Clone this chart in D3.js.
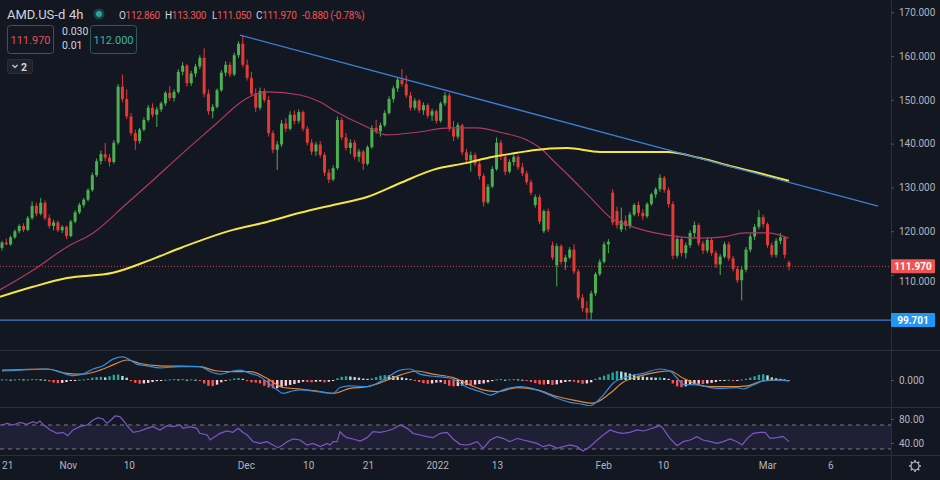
<!DOCTYPE html>
<html>
<head>
<meta charset="utf-8">
<script src="https://cdn.jsdelivr.net/npm/d3@7"></script>
<style>
  body { margin: 0; background: #131722; }
  text { font-family: Roboto, "Noto Sans", sans-serif; }
</style>
</head>
<body>
<div id="chart"></div>
<script>
// 4h candles, [open, high, low, close]
var candles = [
  [116.2,117.8,115.6,117.4],[117.4,118.3,116.8,117.0],[117.0,119.0,116.7,118.6],[118.6,120.4,118.2,120.0],[120.0,121.6,119.5,121.2],
  [121.2,121.8,119.8,120.3],[120.3,123.5,120.0,123.0],[123.0,126.8,122.6,125.8],[125.8,126.5,123.4,124.0],[124.0,127.6,123.6,126.5],
  [126.5,127.0,122.5,123.0],[123.0,123.8,120.6,121.2],[121.2,122.6,120.2,122.0],[122.0,122.4,119.8,120.2],[120.2,121.4,119.6,121.0],
  [121.0,121.3,118.2,118.9],[118.9,122.6,118.6,122.2],[122.2,124.8,121.8,124.3],[124.3,126.5,123.9,126.0],[126.0,127.6,125.4,127.2],
  [127.2,129.8,126.8,129.4],[129.4,133.4,129.0,132.8],[132.8,136.6,132.4,136.0],[136.0,138.4,135.2,137.6],[137.6,140.2,136.0,136.8],
  [136.8,137.6,134.8,135.8],[135.8,140.8,135.4,140.2],[140.2,153.6,139.8,153.0],[153.0,155.8,149.4,150.2],[150.2,152.4,145.6,146.2],
  [146.2,147.0,141.8,142.4],[142.4,143.2,138.6,140.6],[140.6,143.6,140.0,143.2],[143.2,146.0,142.8,145.4],[145.4,148.8,145.0,148.2],
  [148.2,149.2,146.0,146.6],[146.6,148.4,143.8,147.8],[147.8,149.6,147.2,149.2],[149.2,152.0,148.6,151.6],[151.6,153.2,149.8,150.4],
  [150.4,152.4,149.6,151.8],[151.8,157.0,151.4,156.4],[156.4,158.6,155.6,157.8],[157.8,158.2,153.0,153.8],[153.8,156.6,153.2,156.0],
  [156.0,158.2,155.2,157.6],[157.6,160.2,157.0,159.6],[159.6,161.8,150.6,151.4],[151.4,152.4,146.6,147.4],[147.4,149.0,145.8,148.4],
  [148.4,152.6,148.0,152.2],[152.2,156.8,151.8,156.2],[156.2,158.8,155.4,158.0],[158.0,158.6,155.2,155.8],[155.8,160.8,155.4,160.2],
  [160.2,163.4,159.6,162.8],[162.8,164.8,157.4,158.0],[158.0,159.2,154.4,155.0],[155.0,156.4,150.8,151.4],[151.4,152.6,147.2,148.2],
  [148.2,152.8,147.6,152.0],[152.0,152.6,149.4,150.0],[150.0,150.8,141.6,142.4],[142.4,143.0,137.8,138.6],[138.6,140.6,134.0,139.8],
  [139.8,145.4,139.2,144.6],[144.6,145.8,142.6,143.4],[143.4,147.4,143.0,146.6],[146.6,147.6,144.4,145.2],[145.2,147.8,144.6,147.2],
  [147.2,147.6,142.8,143.4],[143.4,144.0,139.6,140.2],[140.2,141.0,137.4,138.2],[138.2,140.4,137.2,139.8],[139.8,140.6,136.8,137.4],
  [137.4,138.0,132.6,133.4],[133.4,134.2,131.0,131.8],[131.8,135.0,131.4,134.4],[134.4,146.2,134.0,145.4],[145.4,146.0,140.8,141.4],
  [141.4,142.4,138.4,139.0],[139.0,141.0,137.6,140.2],[140.2,140.8,136.4,137.0],[137.0,138.8,135.8,138.2],[138.2,138.6,134.0,135.4],
  [135.4,139.6,135.0,139.2],[139.2,144.2,138.8,143.6],[143.6,145.4,142.2,142.8],[142.8,144.8,141.6,144.2],[144.2,147.6,143.8,147.0],
  [147.0,150.8,146.6,150.2],[150.2,153.2,149.4,152.6],[152.6,155.2,151.8,154.6],[154.6,157.0,153.0,153.6],[153.6,155.6,150.4,151.0],
  [151.0,151.8,147.6,148.2],[148.2,150.4,147.6,149.8],[149.8,150.2,147.0,147.6],[147.6,149.4,146.6,148.8],[148.8,149.2,145.8,146.4],
  [146.4,148.0,145.2,147.4],[147.4,147.8,144.6,145.2],[145.2,149.6,144.8,149.2],[149.2,151.8,148.6,151.0],[151.0,151.6,142.8,143.4],
  [143.4,145.2,140.6,141.6],[141.6,144.8,141.0,144.2],[144.2,144.6,137.4,138.0],[138.0,138.8,135.4,136.2],[136.2,138.2,133.6,137.4],
  [137.4,138.0,134.8,135.4],[135.4,136.0,131.8,132.6],[132.6,133.2,125.6,126.6],[126.6,130.8,126.2,130.2],[130.2,134.8,129.8,134.2],
  [134.2,141.4,133.8,140.2],[140.2,140.8,136.2,137.0],[137.0,137.6,132.8,133.6],[133.6,136.4,133.2,135.8],[135.8,137.6,135.0,137.0],
  [137.0,137.4,134.0,134.6],[134.6,135.6,132.6,133.2],[133.2,133.8,130.6,131.2],[131.2,131.8,128.2,128.8],[126.0,128.4,125.4,127.8],
  [127.8,128.4,121.6,122.2],[120.0,125.0,119.6,124.6],[124.6,125.2,119.8,120.4],[116.8,117.6,113.4,114.0],[112.2,117.2,107.4,116.6],
  [116.6,117.0,112.4,113.0],[113.0,114.6,111.2,114.0],[114.0,116.4,113.6,115.8],[115.8,117.0,110.2,110.8],[110.8,111.4,104.2,104.8],
  [104.8,105.6,101.6,102.4],[102.4,104.0,99.7,101.4],[101.4,106.4,99.8,105.8],[105.8,110.6,105.2,110.2],[110.2,113.6,109.8,113.0],
  [113.0,117.6,112.6,117.0],[117.0,118.2,115.0,117.6],[128.8,129.6,121.4,122.0],[124.6,125.6,120.6,121.4],[120.4,125.4,119.8,122.4],
  [122.4,123.6,120.2,121.2],[121.2,124.4,120.6,123.8],[123.8,126.4,123.4,126.0],[126.0,126.8,123.4,124.2],[124.2,125.0,122.6,123.4],
  [123.4,126.6,123.0,126.2],[126.2,128.8,125.8,128.4],[128.4,130.0,127.6,129.6],[129.6,133.0,129.0,132.2],[132.2,132.6,128.8,129.4],
  [129.4,130.0,125.4,126.2],[126.2,126.8,113.6,114.4],[114.4,119.0,113.8,118.2],[118.2,118.8,114.2,115.0],[115.0,117.4,113.8,116.8],
  [116.8,120.2,116.2,119.6],[119.6,122.2,118.6,121.4],[121.4,121.8,116.6,117.2],[117.2,117.8,114.8,115.6],[115.6,118.6,115.0,118.0],
  [118.0,118.6,114.4,115.0],[115.0,115.6,111.6,112.4],[112.4,114.8,110.0,114.2],[114.2,117.6,113.8,117.0],[117.0,117.6,113.2,113.8],
  [113.8,114.4,110.8,111.4],[111.4,112.0,108.2,108.8],[108.8,112.0,104.2,111.2],[111.2,116.4,110.6,115.8],[115.8,119.4,115.2,118.8],
  [118.8,121.6,118.0,121.0],[121.0,124.8,120.4,123.2],[123.2,123.8,120.8,121.6],[121.6,122.0,116.2,116.8],[116.8,117.4,114.0,114.6],
  [114.6,118.4,114.0,117.8],[117.8,119.6,117.0,118.6],[118.6,118.8,113.8,114.6],[112.86,113.3,111.05,111.97]
]

// moving averages, [bar index, value]
var maShort = [[-0.5,106.6],[7.2,111.1],[15.1,116.4],[21.2,119.6],[29.1,126.4],[34.4,131.0],[42.1,137.9],[50,144.7],
  [55.3,149.3],[58.4,151.1],[61.6,151.8],[69.3,151.1],[74,149.5],[77,147.7],[84.9,143.8],[89.5,142.0],[96.5,142.6],
  [104.2,143.6],[110.5,143.6],[115.8,142.6],[122.1,140.8],[125.8,138.5],[127.4,136.9],[132.8,131.7],[137.4,127.1],
  [141.4,123.2],[146.7,121.0],[154.7,119.1],[162.3,118.4],[167.7,118.7],[172.8,119.6],[177.9,119.6],[183,118.4]]
var maLong = [[-0.5,105.0],[7.2,107.3],[15.1,109.3],[25.8,110.5],[34.4,113.4],[42.1,116.4],[53.7,120.3],[61.6,122.1],
  [69.3,124.2],[77,126.0],[84.9,127.8],[92.6,131.0],[100.2,134.0],[108.1,135.6],[114.2,137.0],[119.8,137.9],
  [123.5,138.5],[131.4,139.0],[139.1,138.1],[154.7,138.1],[162.3,136.7],[170,134.7],[177.9,132.8],[183,131.5]]

// drawn lines: falling trend line and support level
var trendLine = [[55.3,164.8],[203.7,125.7]]
var supportLevel = 99.701
var lastClose = 111.97

// MACD pane
var macdLine = [[0,3.1],[4.2,3.4],[10.5,3.8],[13.5,2.7],[16.5,1.5],[18.8,2.0],[21.2,3.8],[23.5,4.9],[25.8,7.2],[28.1,8.0],
  [29.8,6.9],[31.4,5.4],[33.7,4.9],[36.7,4.2],[41.4,4.6],[46,4.6],[48.4,2.9],[50.7,2.0],[53.7,3.1],[55.3,3.4],[57.7,2.3],
  [60,1.1],[61.6,-0.6],[64,-3.4],[65.3,-4.6],[67,-4.0],[69.3,-3.4],[73.3,-4.0],[77,-4.6],[78.6,-2.6],[80.9,-2.0],[84.9,-2.3],
  [88.6,0],[92.6,3.4],[94.9,3.8],[97.2,2.0],[100.2,1.3],[104.2,0.6],[108.8,-2.9],[111.2,-4.0],[113.5,-5.2],[116.5,-3.4],
  [120.5,-2.3],[124.4,-3.4],[129.1,-6.3],[132.1,-7.7],[135.1,-8.4],[136.7,-8.9],[139.8,-5.2],[142.1,-1.1],[145.3,1.1],
  [149.1,2.3],[153,3.8],[155.3,3.1],[157,0.6],[158.4,-1.5],[161.6,-1.7],[164.7,-2.6],[167.7,-2.9],[170.9,-2.6],
  [172.3,-3.1],[174.7,-1.7],[177,-0.3],[179.3,0],[183,-0.3]]
var signalLine = [[0,3.4],[10.5,3.8],[15.1,2.3],[18.8,2.0],[22.8,3.4],[25.8,5.2],[29.1,6.9],[32.1,5.7],[36.7,4.9],[46,4.6],
  [50,3.1],[53.7,2.9],[57.7,2.9],[61.6,0.6],[65.3,-2.6],[69.3,-3.1],[73.3,-3.8],[77,-4.6],[80.9,-2.9],[84.9,-2.3],[88.6,-0.6],
  [92.6,1.7],[96.5,3.1],[100.2,2.0],[104.9,0.8],[108.8,-1.7],[111.9,-3.4],[115.1,-4.0],[119.8,-2.6],[124.4,-3.4],
  [129.1,-5.7],[133.7,-7.2],[137.4,-8.0],[141.4,-4.6],[144.4,-0.8],[147.7,1.1],[152.3,2.7],[155.3,3.1],[158.4,0.6],
  [161.6,-1.5],[164.7,-2.3],[169.3,-2.3],[173.3,-2.0],[177,-0.3],[181,0],[183,-0.3]]
var histogram = [0.2,0.2,0.1,0.2,0.3,0.2,0.2,0.3,0.3,0.2,0.1,
  -0.5,-0.9,-1.1,-1.0,-0.7, -0.3,-0.1,0.1,0.2,0.4, 0.8,1.0,1.1,0.9, 1.3,1.8,1.9,1.4,0.8,
  -0.4,-1.0,-1.3,-1.2,-1.0,-0.7,-0.4, -0.2,0.1,0.2,0.3,0.2,0.3,0.1,0.2,0.1,-0.2,
  -1.2,-2.0,-2.1,-1.6, -0.8,-0.3,0.2, 0.5,0.7,0.4, -0.4,-0.8,-0.9,-1.2,
  -2.0,-2.6,-2.9,-2.8,-2.4,-2.0, -1.7,-1.4,-1.0, -0.6,-0.7,-0.8,-0.6,-0.5,-0.8,-0.6,-0.3,
  0.6,1.1,1.3,1.2,1.0,0.8,0.5, 0.4,0.6, 1.0,1.5,1.7,1.6,1.4, 1.1,0.9,0.6,0.3,-0.1,
  -0.7,-1.1,-1.3,-1.2,-0.9,-0.8, -1.4,-2.0,-2.2,-2.1,-1.9,-1.7, -1.8,-1.6,-1.4,-1.2,-0.8,-0.4,
  0.2,0.3,0.1,0.2,0.3,0.2,0.1,-0.2, -0.7,-1.1,-1.5,-1.6,-1.4,-1.7,-1.5, -1.0,-0.7,-0.5,-0.6,
  -1.0,-1.3,-1.2,-0.8, 0.4,1.0,1.5,2.0,2.6,3.1,2.9, 2.6,2.2,1.9,1.5,1.2, 1.0,0.9,0.8,0.9,0.7,0.4,
  -1.2,-2.2,-2.5,-2.2, -1.7,-1.4,-1.3,-1.4,-1.2,-1.0,-0.7, -0.3,-0.1,0.1,-0.2,-0.1,
  0.2,0.4,0.8, 1.3,1.8,2.0,1.6, 0.9,0.6,0.4,0.2,-0.2]

// RSI pane
var rsiLine = [[0,70],[1.2,72.8],[2.6,70],[4.2,74.4],[5.8,71.1],[7.2,75.6],[8.1,72.8],[8.8,76.7],[9.5,71.1],[11.2,61.7],
  [12.8,56.1],[14.2,57.8],[15.3,52.2],[16.5,61.7],[18.1,67.2],[19.8,70],[21.2,78.3],[22.3,82.2],[23.5,80],[24.4,72.8],
  [25.1,76.7],[26.3,85],[27.4,83.9],[28.1,78.3],[29.3,67.2],[30.5,57.8],[32.1,60],[33.7,64.4],[35.1,67.2],[36.7,61.7],
  [38.4,68.9],[39.8,67.2],[41.4,70],[42.1,64.4],[43.7,67.2],[45.3,64.4],[46,56.1],[47.7,53.3],[48.4,45],[49.5,50.6],
  [50.7,56.1],[52.3,60],[53.7,57.8],[54.9,64.4],[56,57.8],[57,53.3],[58.4,42.2],[60,39.4],[61.6,42.2],[63,36.7],[64.2,32.2],
  [65.3,36.7],[66.3,42.2],[67.7,46.7],[69.3,45],[70.9,36.7],[72.3,39.4],[74,33.9],[75.6,39.4],[76.3,36.7],[77,42.2],
  [77.9,42.2],[78.6,58.9],[79.3,53.3],[80.2,48.9],[81.6,46.7],[83.3,43.3],[84.9,48.9],[86.3,58.9],[87.9,57.8],[89.5,60],
  [90.9,63.3],[92.6,70],[94.2,64.4],[95.6,56.1],[97.2,53.3],[98.8,50.6],[100.2,48.9],[101.9,56.1],[103.5,57.8],[104.9,46.7],
  [106.5,37.8],[108.1,36.7],[108.8,37.8],[110.5,42.2],[111.9,31.1],[113.5,45],[115.1,50.6],[116.5,47.8],[118.1,42.2],
  [119.8,47.8],[121.2,45],[122.8,42.2],[124.4,39.4],[125.8,33.9],[127.4,36.7],[129.1,31.1],[130.5,33.9],[132.1,36.7],
  [133.7,33.9],[135.1,26.7],[136.7,33.9],[138.4,45],[139.8,53.3],[141.4,61.7],[143,57.8],[144.4,56.1],[146,57.8],
  [147.7,61.7],[149.1,60],[150.7,63.3],[152.3,67.2],[153,68.9],[153.7,64.4],[155.3,47.8],[157,35.6],[158.4,42.2],[160,45],
  [161.6,50.6],[163,45],[164.7,42.2],[166.3,39.4],[167.7,42.2],[169.3,46.7],[170.9,42.2],[172.1,36.7],[173.3,47.8],
  [174.7,56.1],[176.3,57.8],[177.4,57.8],[178.6,47.8],[180.2,48.9],[181.6,51.1],[183,42.2]]
var rsiBand = [30, 70]

// axis ticks
var priceTicks = [110, 120, 130, 140, 150, 160, 170]
var macdTicks = [0]
var rsiTicks = [40, 80]
var timeTickIdx = [1.2, 15.3, 29.5, 56.7, 71.2, 85.1, 101.2, 115.1, 139.8, 153.7, 177.9, 192.6]
var timeTickLabels = ["21", "Nov", "10", "Dec", "10", "21", "2022", "13", "Feb", "10", "Mar", "6"]

// header values
var symbol = "AMD.US-d"
var interval = "4h"
var ohlc = [["O", "112.860"], ["H", "113.300"], ["L", "111.050"], ["C", "111.970"]]
var change = "-0.880 (-0.78%)"

var width = 940
var height = 480
var plotRight = 891
var upColor = "#4caf50"
var downColor = "#e53935"
var lineBlue = "#3d7ed6"
var axisText = "#b2b5be"
var sepColor = "#2a2e39"

var svg = d3.select('#chart').append("svg").attr("width", width).attr("height", height)
svg.append("rect").attr("width", width).attr("height", height).attr("fill", "#131722")

var x = d3.scaleLinear().domain([0, 183]).range([2, 789])
var y = d3.scaleLinear().domain([93.1, 172.8]).range([349, 0])
var yMacd = d3.scaleLinear().domain([-8.97, 10]).range([406, 351])
var yRsi = d3.scaleLinear().domain([20, 98.3]).range([455, 408])

var defs = svg.append("defs")
defs.append("clipPath").attr("id", "clipMain").append("rect").attr("width", plotRight).attr("height", 349)
defs.append("clipPath").attr("id", "clipMacd").append("rect").attr("y", 351).attr("width", plotRight).attr("height", 55)
defs.append("clipPath").attr("id", "clipRsi").append("rect").attr("y", 408).attr("width", plotRight).attr("height", 47)

// pane separators
svg.append("g").selectAll("line")
    .data([350.5, 407.5, 455.5])
    .enter()
    .append("line")
    .attr("x1", 0).attr("x2", width)
    .attr("y1", d => d).attr("y2", d => d)
    .attr("stroke", sepColor)
svg.append("line")
    .attr("x1", plotRight + 0.5).attr("x2", plotRight + 0.5)
    .attr("y1", 0).attr("y2", height)
    .attr("stroke", sepColor)

// ---- main pane ----
var main = svg.append("g").attr("clip-path", "url(#clipMain)")

main.append("line")
    .attr("x1", 0).attr("x2", plotRight)
    .attr("y1", y(lastClose)).attr("y2", y(lastClose))
    .attr("stroke", "#ef5350")
    .attr("stroke-dasharray", "1,2")
    .attr("opacity", 0.8)

main.append("line")
    .attr("x1", 0).attr("x2", plotRight)
    .attr("y1", y(supportLevel)).attr("y2", y(supportLevel))
    .attr("stroke", lineBlue)
    .attr("stroke-width", 1.2)

main.selectAll(".wick")
    .data(candles)
    .enter()
    .append("line")
    .attr("class", "wick")
    .attr("x1", (d, i) => x(i)).attr("x2", (d, i) => x(i))
    .attr("y1", d => y(d[1])).attr("y2", d => y(d[2]))
    .attr("stroke", d => d[3] >= d[0] ? upColor : downColor)

main.selectAll(".body")
    .data(candles)
    .enter()
    .append("rect")
    .attr("class", "body")
    .attr("x", (d, i) => x(i) - 1.5)
    .attr("width", 3)
    .attr("y", d => y(Math.max(d[0], d[3])))
    .attr("height", d => Math.max(1, Math.abs(y(d[0]) - y(d[3]))))
    .attr("fill", d => d[3] >= d[0] ? upColor : downColor)

var priceLine = d3.line()
    .x(d => x(d[0]))
    .y(d => y(d[1]))
    .curve(d3.curveMonotoneX)

main.append("path")
    .attr("d", priceLine(maShort))
    .attr("fill", "none")
    .attr("stroke", "#b03a62")
    .attr("stroke-width", 1.2)

main.append("path")
    .attr("d", priceLine(maLong))
    .attr("fill", "none")
    .attr("stroke", "#f5e642")
    .attr("stroke-width", 2)

main.append("path")
    .attr("d", d3.line().x(d => x(d[0])).y(d => y(d[1]))(trendLine))
    .attr("fill", "none")
    .attr("stroke", lineBlue)
    .attr("stroke-width", 1.3)

// ---- MACD pane ----
var macdG = svg.append("g").attr("clip-path", "url(#clipMacd)")

macdG.selectAll(".hist")
    .data(histogram)
    .enter()
    .append("rect")
    .attr("class", "hist")
    .attr("x", (d, i) => x(i) - 1.2)
    .attr("width", 2.4)
    .attr("y", d => Math.min(yMacd(0), yMacd(d)))
    .attr("height", d => Math.max(1, Math.abs(yMacd(d) - yMacd(0))))
    .attr("fill", function(d, i) {
        var prev = i > 0 ? histogram[i - 1] : d
        if (d >= 0) return d >= prev ? "#26a69a" : "#b2dfdb"
        return d < prev ? "#ff5252" : "#ffcdd2"
    })

var macdPath = d3.line().x(d => x(d[0])).y(d => yMacd(d[1])).curve(d3.curveMonotoneX)
macdG.append("path")
    .attr("d", macdPath(signalLine))
    .attr("fill", "none")
    .attr("stroke", "#e0893a")
    .attr("stroke-width", 1.2)
macdG.append("path")
    .attr("d", macdPath(macdLine))
    .attr("fill", "none")
    .attr("stroke", "#2f8fe0")
    .attr("stroke-width", 1.2)

// ---- RSI pane ----
var rsiG = svg.append("g").attr("clip-path", "url(#clipRsi)")

rsiG.append("rect")
    .attr("x", 0).attr("width", plotRight)
    .attr("y", yRsi(rsiBand[1]))
    .attr("height", yRsi(rsiBand[0]) - yRsi(rsiBand[1]))
    .attr("fill", "rgba(126,87,194,0.12)")

rsiG.selectAll(".band")
    .data(rsiBand)
    .enter()
    .append("line")
    .attr("class", "band")
    .attr("x1", 0).attr("x2", plotRight)
    .attr("y1", d => yRsi(d)).attr("y2", d => yRsi(d))
    .attr("stroke", "#787b86")
    .attr("stroke-dasharray", "4,4")

rsiG.append("path")
    .attr("d", d3.line().x(d => x(d[0])).y(d => yRsi(d[1]))(rsiLine))
    .attr("fill", "none")
    .attr("stroke", "#7e57c2")
    .attr("stroke-width", 1.2)

// ---- axes ----
function styleAxis(g) {
    g.select(".domain").remove()
    g.selectAll("text")
        .attr("fill", axisText)
        .style("font-size", "10px")
        .style("font-family", "Roboto, sans-serif")
}

// the 110 label sits under the last-price tag, as in the original; it is nudged down a little
svg.append("g")
    .attr("transform", "translate(" + plotRight + ",0)")
    .call(d3.axisRight(y).tickValues(priceTicks).tickFormat(d3.format(".3f")).tickSize(3).tickPadding(5))
    .call(styleAxis)
    .call(g => g.selectAll(".tick").filter(d => d === 110).select("text").attr("dy", "0.95em"))
    .selectAll("line").attr("stroke", "#50535e")

svg.append("g")
    .attr("transform", "translate(" + plotRight + ",0)")
    .call(d3.axisRight(yMacd).tickValues(macdTicks).tickFormat(d3.format(".3f")).tickSize(3).tickPadding(5))
    .call(styleAxis)
    .selectAll("line").attr("stroke", "#50535e")

svg.append("g")
    .attr("transform", "translate(" + plotRight + ",0)")
    .call(d3.axisRight(yRsi).tickValues(rsiTicks).tickFormat(d3.format(".2f")).tickSize(3).tickPadding(5))
    .call(styleAxis)
    .selectAll("line").attr("stroke", "#50535e")

svg.append("g")
    .attr("transform", "translate(0,459)")
    .call(d3.axisBottom(x).tickValues(timeTickIdx).tickFormat((d, i) => timeTickLabels[i]).tickSize(0).tickPadding(3))
    .call(styleAxis)

// price labels on the axis
var tags = [[lastClose, "#ef5350", "111.970"], [supportLevel, "#2196f3", "99.701"]]
var tagG = svg.selectAll(".tag")
    .data(tags)
    .enter()
    .append("g")
    .attr("class", "tag")
    .attr("transform", d => "translate(" + plotRight + "," + y(d[0]) + ")")
tagG.append("rect")
    .attr("x", 0).attr("y", -7)
    .attr("width", 44).attr("height", 14)
    .attr("rx", 1)
    .attr("fill", d => d[1])
tagG.append("text")
    .attr("x", 22).attr("y", 3.5)
    .attr("text-anchor", "middle")
    .attr("fill", "#ffffff")
    .style("font-size", "10px")
    .style("font-weight", "bold")
    .text(d => d[2])

// gear icon in the corner
var gear = svg.append("g").attr("transform", "translate(915,466)")
gear.append("circle").attr("r", 4).attr("fill", "none").attr("stroke", axisText).attr("stroke-width", 1.2)
gear.selectAll("line")
    .data(d3.range(8))
    .enter()
    .append("line")
    .attr("x1", d => 4 * Math.cos(d * Math.PI / 4)).attr("y1", d => 4 * Math.sin(d * Math.PI / 4))
    .attr("x2", d => 6 * Math.cos(d * Math.PI / 4)).attr("y2", d => 6 * Math.sin(d * Math.PI / 4))
    .attr("stroke", axisText).attr("stroke-width", 1.6)

// ---- header ----
svg.append("text")
    .attr("x", 7).attr("y", 19)
    .attr("fill", "#d1d4dc")
    .style("font-size", "13px")
    .text(symbol)
svg.append("text")
    .attr("x", 69).attr("y", 19)
    .attr("fill", "#d1d4dc")
    .style("font-size", "13px")
    .text(interval)
svg.append("circle").attr("cx", 99).attr("cy", 14).attr("r", 5.5).attr("fill", "#26a69a").attr("opacity", 0.3)
svg.append("circle").attr("cx", 99).attr("cy", 14).attr("r", 3).attr("fill", "#26a69a")

var ohlcX = [119, 165, 212, 256]
ohlc.forEach(function(d, i) {
    var t = svg.append("text")
        .attr("x", ohlcX[i]).attr("y", 19)
        .style("font-size", "10px")
        .style("letter-spacing", "-0.3px")
    t.append("tspan").attr("fill", "#d1d4dc").text(d[0])
    t.append("tspan").attr("fill", "#ef5350").text(d[1])
})
svg.append("text")
    .attr("x", 302).attr("y", 19)
    .attr("fill", "#ef5350")
    .style("font-size", "10px")
    .style("letter-spacing", "-0.3px")
    .text(change)

svg.append("rect")
    .attr("x", 7.5).attr("y", 25.5).attr("width", 46).attr("height", 28).attr("rx", 3)
    .attr("fill", "none").attr("stroke", "#7a3a42")
svg.append("text")
    .attr("x", 30.5).attr("y", 43.5).attr("text-anchor", "middle")
    .attr("fill", "#e0505a").style("font-size", "11px")
    .text("111.970")
svg.append("text")
    .attr("x", 62).attr("y", 35).attr("fill", "#d1d4dc").style("font-size", "10.5px").text("0.030")
svg.append("text")
    .attr("x", 62).attr("y", 48.5).attr("fill", "#d1d4dc").style("font-size", "10.5px").text("0.01")
svg.append("rect")
    .attr("x", 90.5).attr("y", 25.5).attr("width", 46).attr("height", 28).attr("rx", 3)
    .attr("fill", "none").attr("stroke", "#2e5b5a")
svg.append("text")
    .attr("x", 113.5).attr("y", 43.5).attr("text-anchor", "middle")
    .attr("fill", "#3bb3a6").style("font-size", "11px")
    .text("112.000")

svg.append("rect")
    .attr("x", 7.5).attr("y", 59.5).attr("width", 25).attr("height", 14).attr("rx", 2)
    .attr("fill", "#1e222d").attr("stroke", "#2a2e39")
svg.append("path")
    .attr("d", "M12.5,65 L15,67.5 L17.5,65")
    .attr("fill", "none").attr("stroke", "#d1d4dc").attr("stroke-width", 1.2)
svg.append("text")
    .attr("x", 21).attr("y", 70.5).attr("fill", "#d1d4dc")
    .style("font-size", "10.5px").style("font-weight", "bold")
    .text("2")
</script>
</body>
</html>
